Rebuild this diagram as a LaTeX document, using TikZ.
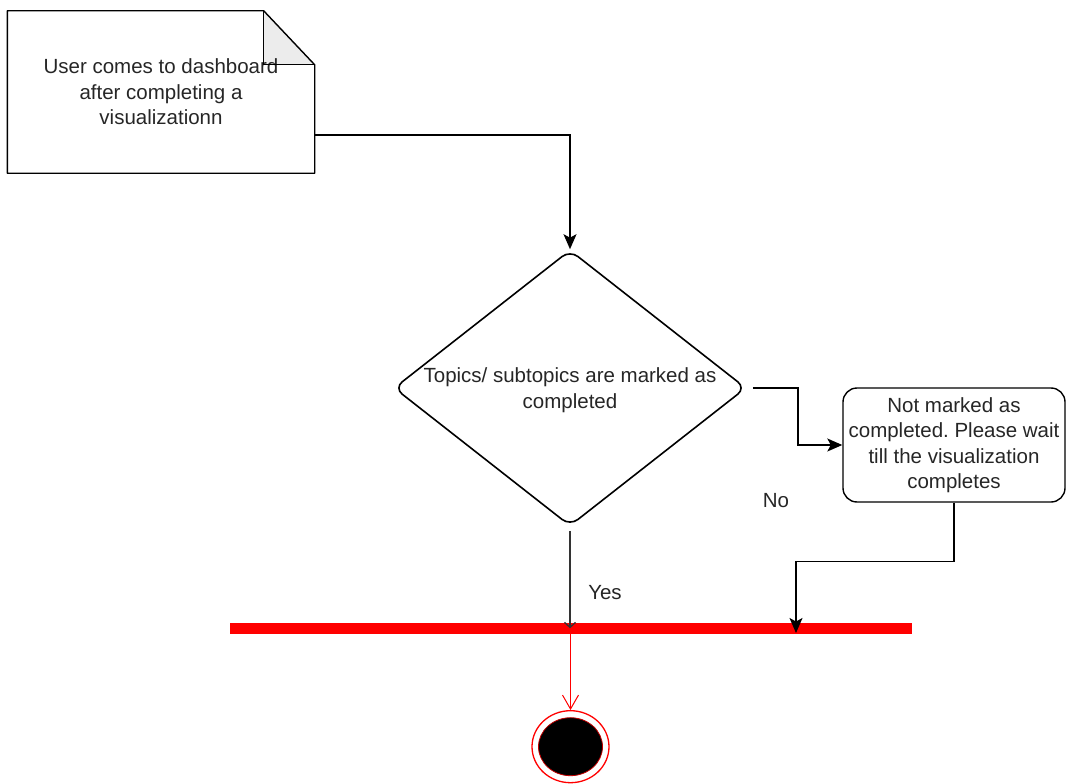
\documentclass[tikz,border=0pt]{standalone}
\usepackage{fontspec}
\setmainfont{Liberation Sans}
\usetikzlibrary{shapes.geometric,arrows.meta,calc,backgrounds}
\begin{document}
\frenchspacing
\begin{tikzpicture}[x=1pt,y=-1pt,
  txt/.style={font=\fontsize{20.5}{25.5}\selectfont, text=black!85, align=center},
  stroke/.style={line width=1.4pt},
  flow/.style={line width=1.4pt, -{Stealth[length=15pt,width=13pt,inset=3.5pt]}},
]
\useasboundingbox (0,0) rectangle (1069,784);

% note with folded corner
\node[txt, minimum width=307pt, minimum height=162pt, inner sep=0] (note) at (161,92)
  {User comes to dashboard\\after completing a\\visualizationn};
\begin{pgfonlayer}{background}
  \fill[gray!15] ([xshift=-51pt]note.north east) -- ([xshift=-51pt,yshift=-54pt]note.north east)
    -- ([yshift=-54pt]note.north east) -- cycle;
\end{pgfonlayer}
\draw[stroke, line join=round] (note.north west) -- ([xshift=-51pt]note.north east)
  -- ([yshift=-54pt]note.north east) -- (note.south east) -- (note.south west) -- cycle;
\draw[stroke] ([xshift=-51pt]note.north east) -- ([xshift=-51pt,yshift=-54pt]note.north east)
  -- ([yshift=-54pt]note.north east);

% decision
\node[diamond, draw, line width=1.6pt, rounded corners=10pt, minimum width=352pt,
  minimum height=276pt, inner sep=0] (dia) at (570,388) {};
\node[txt] (diatext) at ([yshift=-2pt]dia.center) {Topics/ subtopics are marked as\\completed};

% waiting activity
\node[txt, draw, line width=1.4pt, rounded corners=14pt, minimum width=222pt,
  minimum height=114pt, inner sep=0] (wait) at (954,445)
  {Not marked as\\completed. Please wait\\till the visualization\\completes};

% join bar
\node[fill=red, minimum width=682pt, minimum height=11pt, inner sep=0] (bar) at (571,628.3) {};

% final state
\node[ellipse, draw=red, line width=1.3pt, minimum width=77pt, minimum height=72pt,
  inner sep=0] (fin) at (570.5,746.7) {};
\node[ellipse, fill=black, draw=red!75!black, line width=0.8pt, minimum width=64pt,
  minimum height=58pt, inner sep=0] (fincore) at (fin.center) {};

% labels
\node[txt] (yes) at (605,593) {Yes};
\node[txt] (no) at (776,501) {No};

% connectors
\draw[flow] ([yshift=-43pt]note.east) -| (dia.north);
\draw[flow] ([xshift=6pt]dia.east) -- ++(45,0) |- (wait.west);
\coordinate (drop) at (796,633);
\draw[flow] (wait.south) -- ++(0,59) -| (drop);
\draw[line width=1.3pt, black!80, -{Straight Barb[length=5pt,width=11pt]}]
  ([yshift=-4pt]dia.south) -- (dia.south |- bar.center);
\draw[red, line width=1pt, -{Straight Barb[length=14pt,width=16pt]}]
  (fin.north |- bar.south) -- (fin.north);
\end{tikzpicture}
\end{document}
